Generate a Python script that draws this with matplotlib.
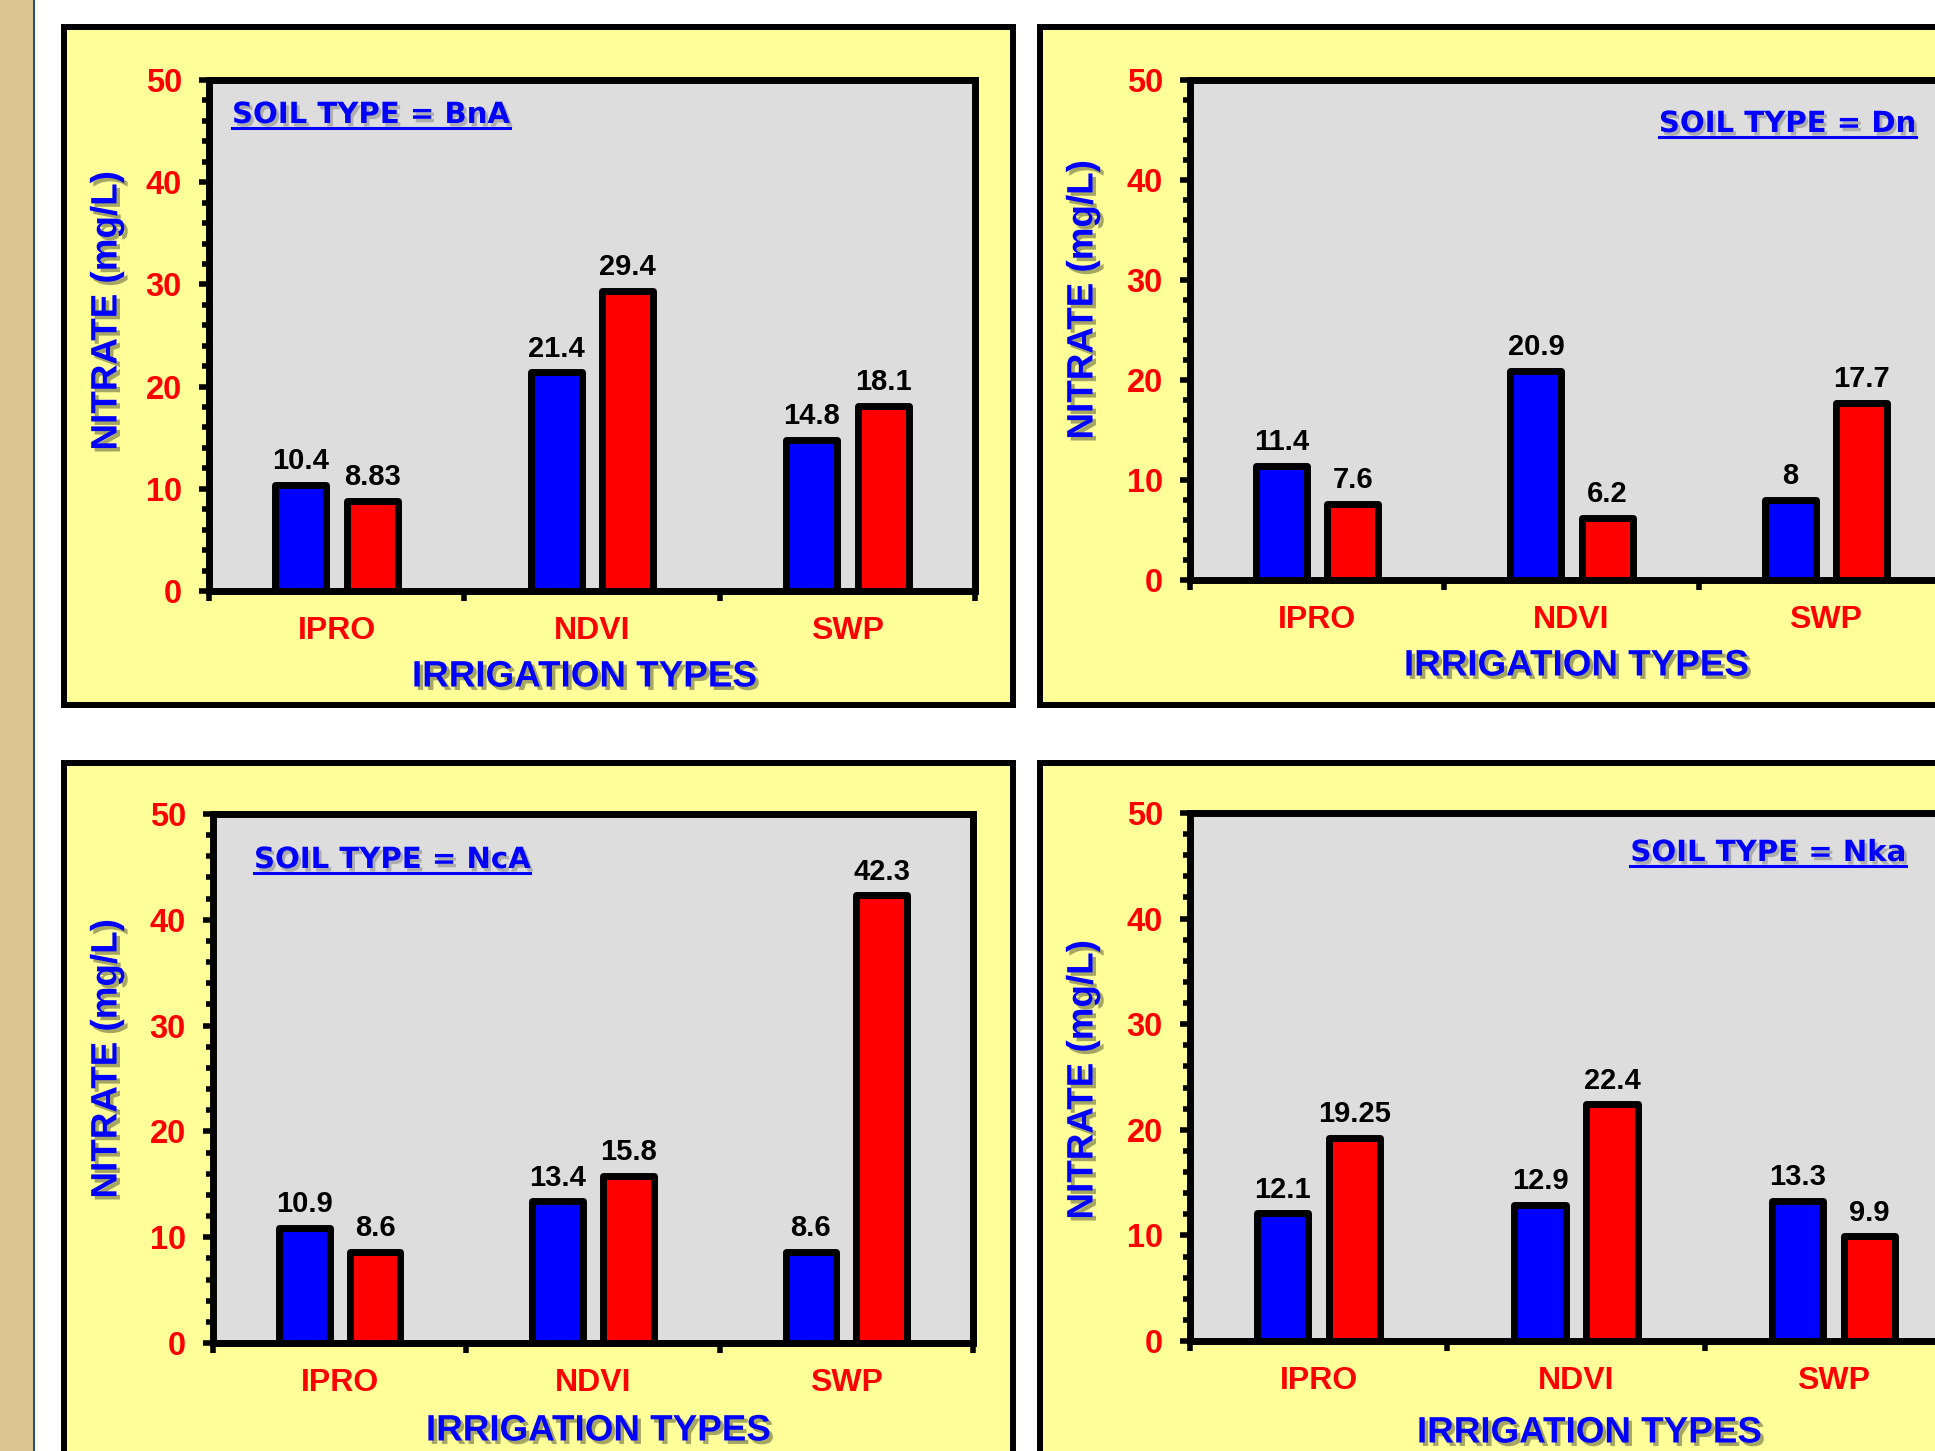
import numpy as np
import matplotlib
matplotlib.use("Agg")
from matplotlib import pyplot as plt
from matplotlib.patches import Rectangle
from matplotlib.lines import Line2D
import matplotlib.patheffects as pe

plt.rcParams['font.family'] = ['Liberation Sans', 'DejaVu Sans']

# data
irrigation = ["IPRO", "NDVI", "SWP"]
soils = ["BnA", "Dn", "NcA", "Nka"]
blue_bna = [10.4, 21.4, 14.8]
red_bna = [8.83, 29.4, 18.1]
blue_dn = [11.4, 20.9, 8]
red_dn = [7.6, 6.2, 17.7]
blue_nca = [10.9, 13.4, 8.6]
red_nca = [8.6, 15.8, 42.3]
blue_nka = [12.1, 12.9, 13.3]
red_nka = [19.25, 22.4, 9.9]

W, H = 1935, 1451
fig = plt.figure(figsize=(W / 100, H / 100), dpi=100)
fig.patch.set_facecolor("white")


def frac(l, t, r, b):
    # pixel box (from top-left) -> figure fraction [x, y, w, h]
    return [l / W, 1 - b / H, (r - l) / W, (b - t) / H]


# textured strip on the left
fig.patches.append(Rectangle((0, 0), 33 / W, 1, transform=fig.transFigure,
                             facecolor="#DCC590", edgecolor="none", zorder=-2))
fig.lines.append(Line2D([34 / W, 34 / W], [0, 1], transform=fig.transFigure,
                        color="#2B4C7E", linewidth=1.5, zorder=-2))

# yellow panels
panels = [(64, 27, 1013, 705), (1040, 27, 1990, 705),
          (64, 763, 1013, 1500), (1040, 763, 1990, 1500)]
for l, t, r, b in panels:
    x, y, w, h = frac(l, t, r, b)
    fig.patches.append(Rectangle((x, y), w, h, transform=fig.transFigure,
                                 facecolor="#FFFF99", edgecolor="black",
                                 linewidth=4.3, zorder=-1))

# axes boxes in pixels
boxes = [(209, 80, 975, 591), (1190, 80, 1953, 580),
         (213, 814, 973, 1343), (1190, 813, 1962, 1341)]
data = [(blue_bna, red_bna), (blue_dn, red_dn), (blue_nca, red_nca), (blue_nka, red_nka)]

# label positions (pixels)
ylab_pos = [(107, 311), (1083, 300), (107, 1059), (1083, 1080)]
xlab_pos = [(584, 677), (1576, 666), (598, 1431), (1589, 1433)]
soil_pos = [(232, 123, "left"), (1916, 132, "right"), (254, 868, "left"), (1906, 861, "right")]

shadow = [pe.withSimplePatchShadow(offset=(2.5, -2.5), shadow_rgbFace="black", alpha=0.35)]
soil_texts = []

x = np.arange(len(irrigation))
for i, box in enumerate(boxes):
    ax = fig.add_axes(frac(*box))
    ax.set_facecolor("#DDDDDD")
    blue, red = data[i]
    b1 = ax.bar(x - 0.14, blue, 0.2, color="#0000FF", edgecolor="black",
                linewidth=5, joinstyle="round", zorder=3)
    b2 = ax.bar(x + 0.14, red, 0.2, color="#FF0000", edgecolor="black",
                linewidth=5, joinstyle="round", zorder=3)
    ax.bar_label(b1, labels=[f"{v:g}" for v in blue], padding=7,
                 fontsize=21, fontweight="bold")
    ax.bar_label(b2, labels=[f"{v:g}" for v in red], padding=7,
                 fontsize=21, fontweight="bold")

    ax.set_xlim(-0.5, 2.5)
    ax.set_ylim(0, 50)
    for s in ax.spines.values():
        s.set_linewidth(5)
        s.set_color("black")
        s.set_zorder(4)
    ax.set_yticks(np.arange(0, 51, 10), labels=[str(v) for v in range(0, 51, 10)],
                  fontweight="bold")
    ax.set_yticks(np.arange(0, 51, 2), minor=True)
    ax.tick_params(axis="y", which="major", direction="out", length=7.5, width=4,
                   pad=12, labelsize=23.5, labelcolor="#FF0000")
    ax.tick_params(axis="y", which="minor", direction="out", length=5.4, width=4)
    ax.set_xticks(x, labels=irrigation, fontweight="bold")
    ax.set_xticks([-0.5, 0.5, 1.5, 2.5], minor=True)
    ax.tick_params(axis="x", which="major", length=0, pad=18, labelsize=23,
                   labelcolor="#FF0000")
    ax.tick_params(axis="x", which="minor", direction="out", length=7, width=4)

    yx, yy = ylab_pos[i]
    fig.text(yx / W, 1 - yy / H, "NITRATE (mg/L)", rotation=90, ha="center",
             va="center", fontsize=26.5, fontweight="bold", color="#0000FF",
             path_effects=shadow)
    xx, xy = xlab_pos[i]
    fig.text(xx / W, 1 - xy / H, "IRRIGATION TYPES", ha="center", va="center",
             fontsize=26.5, fontweight="bold", color="#0000FF", path_effects=shadow)

    sx, sy, ha = soil_pos[i]
    t = fig.text(sx / W, 1 - sy / H, f"SOIL TYPE = {soils[i]}", ha=ha, va="baseline",
                 fontsize=21, fontweight="bold", color="#0000FF",
                 family="DejaVu Sans",
                 path_effects=[pe.withSimplePatchShadow(offset=(2, -2.5),
                                                        shadow_rgbFace="#666666",
                                                        alpha=0.4)])
    soil_texts.append((t, sy))

# underline the soil labels
fig.canvas.draw()
for t, sy in soil_texts:
    bb = t.get_window_extent()
    yl = 1 - (sy + 5) / H
    fig.lines.append(Line2D([bb.x0 / W, bb.x1 / W], [yl, yl], transform=fig.transFigure,
                            color="#0000FF", linewidth=2.2, zorder=5))

fig.savefig("out.png", dpi=100)
